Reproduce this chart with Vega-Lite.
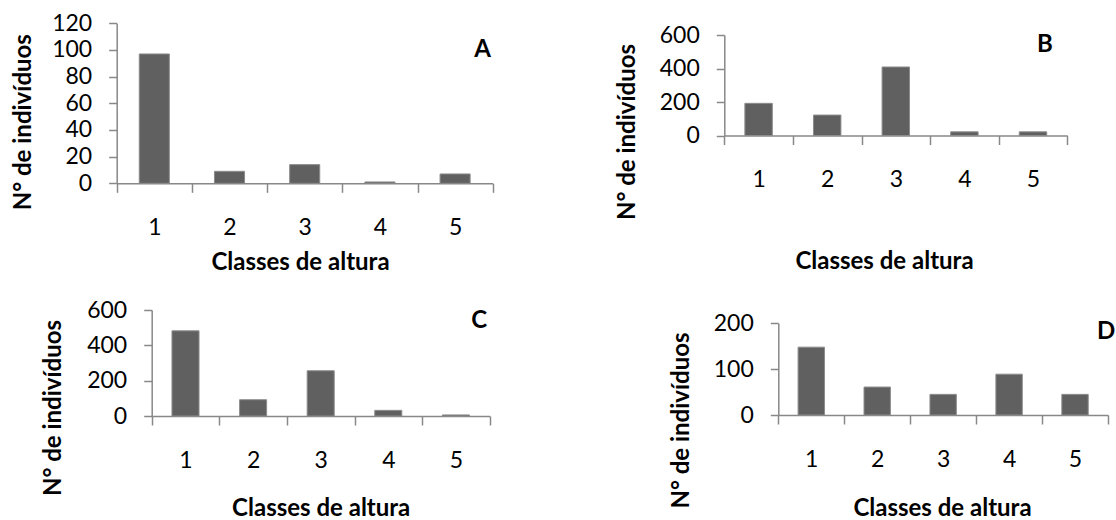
{
  "$schema": "https://vega.github.io/schema/vega-lite/v6.json",
  "autosize": {"type": "pad"},
  "padding": 0,
  "background": "white",
  "config": {
    "view": {"stroke": null},
    "font": "Lato",
    "axis": {
      "grid": false,
      "domainColor": "#888888",
      "tickColor": "#888888",
      "domainWidth": 1.5,
      "tickWidth": 1.5,
      "labelFont": "Lato",
      "labelFontSize": 23,
      "labelColor": "#000000",
      "titleFont": "Lato",
      "titleFontSize": 24,
      "titleFontWeight": "bold",
      "titleColor": "#000000"
    },
    "text": {"font": "Lato"}
  },
  "datasets": {
    "alturas": [
      {"painel": "A", "classe": 1, "n": 97},
      {"painel": "A", "classe": 2, "n": 9},
      {"painel": "A", "classe": 3, "n": 14},
      {"painel": "A", "classe": 4, "n": 1},
      {"painel": "A", "classe": 5, "n": 7},
      {"painel": "B", "classe": 1, "n": 192},
      {"painel": "B", "classe": 2, "n": 122},
      {"painel": "B", "classe": 3, "n": 409},
      {"painel": "B", "classe": 4, "n": 22},
      {"painel": "B", "classe": 5, "n": 22},
      {"painel": "C", "classe": 1, "n": 482},
      {"painel": "C", "classe": 2, "n": 92},
      {"painel": "C", "classe": 3, "n": 256},
      {"painel": "C", "classe": 4, "n": 32},
      {"painel": "C", "classe": 5, "n": 6},
      {"painel": "D", "classe": 1, "n": 148},
      {"painel": "D", "classe": 2, "n": 61},
      {"painel": "D", "classe": 3, "n": 45},
      {"painel": "D", "classe": 4, "n": 89},
      {"painel": "D", "classe": 5, "n": 45}
    ]
  },
  "columns": 2,
  "spacing": 0,
  "bounds": "flush",
  "concat": [
    {
      "width": 558,
      "height": 260,
      "layer": [
        {
          "data": {"name": "alturas"},
          "transform": [{"filter": "datum.painel === 'A'"}],
          "mark": {"type": "bar", "width": {"band": 0.4}, "color": "#606060", "stroke": "#8c8c8c", "strokeWidth": 1},
          "encoding": {
            "x": {
              "field": "classe", "type": "ordinal",
              "scale": {"range": [116.7, 492.7], "paddingInner": 0, "paddingOuter": 0},
              "axis": {"title": "Classes de altura", "offset": -76.7, "tickBand": "extent", "tickSize": 9, "labelPadding": 42, "labelBaseline": "alphabetic", "labelAngle": 0, "titleX": 300, "titleY": 86, "titleBaseline": "alphabetic", "titleAlign": "center"}
            },
            "y": {
              "field": "n", "type": "quantitative",
              "scale": {"domain": [0, 120], "range": [183.3, 23.3], "nice": false},
              "axis": {"title": "N° de indivíduos", "offset": -116.7, "values": [0, 20, 40, 60, 80, 100, 120], "tickSize": 8, "labelPadding": 17, "labelBaseline": "middle", "titleAngle": 270, "titleX": -86, "titleY": 121.7, "titleBaseline": "alphabetic", "titleAlign": "center"}
            }
          }
        },
        {
          "data": {"values": [{"rotulo": "A"}]},
          "mark": {"type": "text", "fontSize": 24, "fontWeight": "bold", "baseline": "alphabetic", "align": "center", "dx": 27.4, "dy": 33.7, "color": "#000000"},
          "encoding": {
            "x": {"datum": 5, "type": "ordinal"},
            "y": {"datum": 120, "type": "quantitative"},
            "text": {"field": "rotulo"}
          }
        }
      ]
    },
    {
      "width": 558,
      "height": 260,
      "layer": [
        {
          "data": {"name": "alturas"},
          "transform": [{"filter": "datum.painel === 'B'"}],
          "mark": {"type": "bar", "width": {"band": 0.4}, "color": "#606060", "stroke": "#8c8c8c", "strokeWidth": 1},
          "encoding": {
            "x": {
              "field": "classe", "type": "ordinal",
              "scale": {"range": [166.3, 509.3], "paddingInner": 0, "paddingOuter": 0},
              "axis": {"title": "Classes de altura", "offset": -124.5, "tickBand": "extent", "tickSize": 9, "labelPadding": 42, "labelBaseline": "alphabetic", "labelAngle": 0, "titleX": 326, "titleY": 133, "titleBaseline": "alphabetic", "titleAlign": "center"}
            },
            "y": {
              "field": "n", "type": "quantitative",
              "scale": {"domain": [0, 600], "range": [135.5, 35], "nice": false},
              "axis": {"title": "N° de indivíduos", "offset": -166.3, "values": [0, 200, 400, 600], "tickSize": 8, "labelPadding": 17, "labelBaseline": "middle", "titleAngle": 270, "titleX": -90.3, "titleY": 131.5, "titleBaseline": "alphabetic", "titleAlign": "center"}
            }
          }
        },
        {
          "data": {"values": [{"rotulo": "B"}]},
          "mark": {"type": "text", "fontSize": 24, "fontWeight": "bold", "baseline": "alphabetic", "align": "center", "dx": 12, "dy": 17.3, "color": "#000000"},
          "encoding": {
            "x": {"datum": 5, "type": "ordinal"},
            "y": {"datum": 600, "type": "quantitative"},
            "text": {"field": "rotulo"}
          }
        }
      ]
    },
    {
      "width": 558,
      "height": 260,
      "layer": [
        {
          "data": {"name": "alturas"},
          "transform": [{"filter": "datum.painel === 'C'"}],
          "mark": {"type": "bar", "width": {"band": 0.4}, "color": "#606060", "stroke": "#8c8c8c", "strokeWidth": 1},
          "encoding": {
            "x": {
              "field": "classe", "type": "ordinal",
              "scale": {"range": [151.7, 489.7], "paddingInner": 0, "paddingOuter": 0},
              "axis": {"title": "Classes de altura", "offset": -104, "tickBand": "extent", "tickSize": 9, "labelPadding": 42, "labelBaseline": "alphabetic", "labelAngle": 0, "titleX": 320.7, "titleY": 99.5, "titleBaseline": "alphabetic", "titleAlign": "center"}
            },
            "y": {
              "field": "n", "type": "quantitative",
              "scale": {"domain": [0, 600], "range": [156, 50], "nice": false},
              "axis": {"title": "N° de indivíduos", "offset": -151.7, "values": [0, 200, 400, 600], "tickSize": 8, "labelPadding": 17, "labelBaseline": "middle", "titleAngle": 270, "titleX": -91, "titleY": 147.5, "titleBaseline": "alphabetic", "titleAlign": "center"}
            }
          }
        },
        {
          "data": {"values": [{"rotulo": "C"}]},
          "mark": {"type": "text", "fontSize": 24, "fontWeight": "bold", "baseline": "alphabetic", "align": "center", "dx": 23.3, "dy": 18.3, "color": "#000000"},
          "encoding": {
            "x": {"datum": 5, "type": "ordinal"},
            "y": {"datum": 600, "type": "quantitative"},
            "text": {"field": "rotulo"}
          }
        }
      ]
    },
    {
      "width": 558,
      "height": 260,
      "layer": [
        {
          "data": {"name": "alturas"},
          "transform": [{"filter": "datum.painel === 'D'"}],
          "mark": {"type": "bar", "width": {"band": 0.4}, "color": "#606060", "stroke": "#8c8c8c", "strokeWidth": 1},
          "encoding": {
            "x": {
              "field": "classe", "type": "ordinal",
              "scale": {"range": [220.3, 550], "paddingInner": 0, "paddingOuter": 0},
              "axis": {"title": "Classes de altura", "offset": -105, "tickBand": "extent", "tickSize": 9, "labelPadding": 42, "labelBaseline": "alphabetic", "labelAngle": 0, "titleX": 384, "titleY": 100.5, "titleBaseline": "alphabetic", "titleAlign": "center"}
            },
            "y": {
              "field": "n", "type": "quantitative",
              "scale": {"domain": [0, 200], "range": [155, 63.3], "nice": false},
              "axis": {"title": "N° de indivíduos", "offset": -220.3, "values": [0, 100, 200], "tickSize": 8, "labelPadding": 17, "labelBaseline": "middle", "titleAngle": 270, "titleX": -90, "titleY": 160, "titleBaseline": "alphabetic", "titleAlign": "center"}
            }
          }
        },
        {
          "data": {"values": [{"rotulo": "D"}]},
          "mark": {"type": "text", "fontSize": 24, "fontWeight": "bold", "baseline": "alphabetic", "align": "center", "dx": 31, "dy": 16, "color": "#000000"},
          "encoding": {
            "x": {"datum": 5, "type": "ordinal"},
            "y": {"datum": 200, "type": "quantitative"},
            "text": {"field": "rotulo"}
          }
        }
      ]
    }
  ]
}
